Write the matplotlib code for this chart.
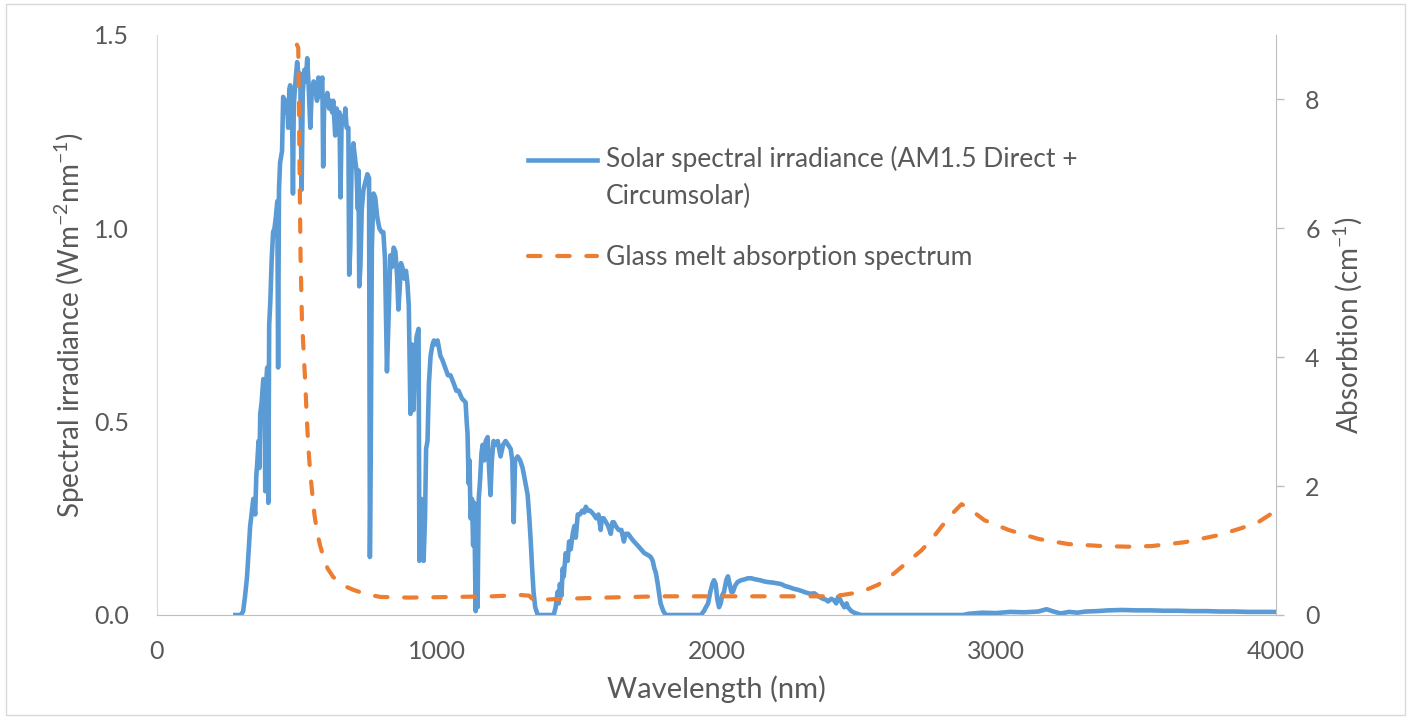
import numpy as np
import matplotlib.pyplot as plt
from matplotlib.patches import Rectangle

plt.rcParams['font.family'] = ['Lato', 'DejaVu Sans']
plt.rcParams['mathtext.fontset'] = 'custom'
plt.rcParams['mathtext.rm'] = 'Lato'
plt.rcParams['mathtext.default'] = 'regular'

text_col = '#595959'
axis_col = '#BFBFBF'

# solar spectral irradiance, AM1.5 direct + circumsolar
solar_wl = [280, 286, 300, 308, 315, 322, 328, 333, 338, 344, 351, 355, 358, 363, 366, 369, 374, 380, 384, 387,
            390, 394, 398, 401, 405, 410, 415, 420, 425, 430, 433, 436, 440, 447, 451, 458, 465, 469, 473, 476,
            482, 486, 489, 495, 501, 508, 512, 517, 521, 527, 532, 537, 542, 548, 553, 560, 566, 572, 577, 583,
            588, 591, 594, 598, 604, 609, 615, 620, 626, 630, 634, 637, 642, 648, 652, 656, 660, 665, 670, 673,
            678, 684, 687, 691, 696, 702, 708, 713, 718, 720, 723, 727, 732, 738, 745, 752, 758, 761, 764, 768,
            774, 780, 787, 795, 803, 809, 815, 822, 827, 834, 840, 846, 852, 858, 863, 868, 872, 877, 884, 890,
            895, 900, 906, 911, 917, 922, 928, 935, 938, 945, 950, 953, 958, 962, 967, 972, 978, 985, 990, 995,
            1003, 1008, 1013, 1020, 1030, 1040, 1049, 1060, 1070, 1078, 1090, 1103, 1107, 1110, 1114, 1117, 1121, 1126, 1130, 1134,
            1139, 1143, 1146, 1150, 1155, 1160, 1164, 1170, 1175, 1182, 1187, 1192, 1197, 1203, 1210, 1218, 1228, 1237, 1246, 1255,
            1264, 1270, 1275, 1280, 1289, 1298, 1307, 1315, 1320, 1325, 1331, 1336, 1341, 1346, 1352, 1361, 1380, 1400, 1418, 1425,
            1432, 1436, 1440, 1446, 1450, 1454, 1461, 1468, 1473, 1479, 1486, 1492, 1497, 1504, 1512, 1520, 1527, 1533, 1540, 1548,
            1555, 1561, 1570, 1578, 1586, 1590, 1597, 1605, 1613, 1622, 1628, 1633, 1640, 1650, 1660, 1669, 1675, 1684, 1694, 1705,
            1718, 1730, 1742, 1755, 1765, 1772, 1778, 1783, 1790, 1794, 1800, 1810, 1819, 1850, 1900, 1944, 1955, 1962, 1970, 1978,
            1985, 1991, 1997, 2003, 2009, 2015, 2020, 2027, 2035, 2041, 2047, 2053, 2059, 2066, 2075, 2088, 2100, 2112, 2124, 2140,
            2155, 2170, 2184, 2200, 2215, 2231, 2245, 2260, 2275, 2292, 2305, 2320, 2335, 2350, 2365, 2380, 2390, 2399, 2410, 2420,
            2428, 2435, 2442, 2450, 2457, 2465, 2470, 2482, 2495, 2517, 2600, 2700, 2800, 2880, 2900, 2950, 3000, 3050, 3100, 3150,
            3180, 3200, 3230, 3260, 3290, 3320, 3360, 3400, 3450, 3500, 3550, 3600, 3650, 3700, 3750, 3800, 3850, 3900, 3950, 4000]
solar_irr = [0, 0, 0, 0.01, 0.05, 0.10, 0.17, 0.23, 0.26, 0.30, 0.26, 0.36, 0.39, 0.45, 0.38, 0.52, 0.55, 0.61, 0.58, 0.32,
             0.60, 0.64, 0.29, 0.75, 0.81, 0.92, 0.99, 1.00, 1.03, 1.07, 0.64, 1.10, 1.17, 1.20, 1.34, 1.30, 1.33, 1.26, 1.36, 1.37,
             1.34, 1.09, 1.32, 1.38, 1.43, 1.38, 1.40, 1.10, 1.35, 1.41, 1.38, 1.44, 1.37, 1.26, 1.35, 1.38, 1.36, 1.33, 1.39, 1.34,
             1.38, 1.39, 1.16, 1.34, 1.32, 1.35, 1.31, 1.33, 1.30, 1.33, 1.28, 1.24, 1.31, 1.29, 1.30, 1.08, 1.28, 1.29, 1.27, 1.31,
             1.26, 1.26, 0.88, 0.95, 1.18, 1.22, 1.18, 1.15, 1.05, 1.15, 0.85, 0.90, 1.05, 1.10, 1.12, 1.14, 1.13, 0.15, 0.40, 0.95,
             1.09, 1.08, 1.03, 1.00, 0.99, 0.99, 0.92, 0.63, 0.75, 0.93, 0.90, 0.95, 0.94, 0.88, 0.79, 0.85, 0.91, 0.90, 0.87, 0.89,
             0.86, 0.80, 0.52, 0.70, 0.53, 0.65, 0.72, 0.74, 0.14, 0.30, 0.15, 0.14, 0.25, 0.43, 0.45, 0.60, 0.67, 0.70, 0.71, 0.70,
             0.71, 0.69, 0.67, 0.66, 0.64, 0.62, 0.62, 0.60, 0.58, 0.58, 0.56, 0.55, 0.50, 0.47, 0.34, 0.40, 0.25, 0.30, 0.18, 0.29,
             0.01, 0.20, 0.02, 0.30, 0.35, 0.42, 0.44, 0.40, 0.45, 0.46, 0.38, 0.31, 0.40, 0.45, 0.44, 0.45, 0.41, 0.44, 0.45, 0.44,
             0.43, 0.40, 0.24, 0.40, 0.41, 0.40, 0.38, 0.35, 0.33, 0.31, 0.25, 0.19, 0.12, 0.06, 0.02, 0, 0, 0, 0, 0.02,
             0.06, 0.03, 0.08, 0.05, 0.12, 0.10, 0.16, 0.14, 0.19, 0.17, 0.21, 0.23, 0.20, 0.26, 0.26, 0.27, 0.265, 0.28, 0.27, 0.27,
             0.265, 0.26, 0.25, 0.26, 0.22, 0.25, 0.25, 0.24, 0.23, 0.21, 0.24, 0.24, 0.23, 0.22, 0.22, 0.19, 0.21, 0.21, 0.20, 0.19,
             0.18, 0.17, 0.16, 0.155, 0.15, 0.14, 0.12, 0.11, 0.08, 0.06, 0.03, 0.01, 0, 0, 0, 0, 0.01, 0.02, 0.03, 0.06,
             0.08, 0.09, 0.08, 0.04, 0.02, 0.03, 0.05, 0.06, 0.09, 0.10, 0.08, 0.06, 0.06, 0.075, 0.085, 0.09, 0.092, 0.095, 0.095, 0.092,
             0.09, 0.087, 0.085, 0.084, 0.082, 0.08, 0.075, 0.072, 0.068, 0.065, 0.062, 0.058, 0.055, 0.056, 0.048, 0.042, 0.04, 0.035, 0.042, 0.038,
             0.03, 0.047, 0.04, 0.028, 0.02, 0.03, 0.02, 0.01, 0.005, 0, 0, 0, 0, 0, 0.003, 0.006, 0.005, 0.008, 0.007, 0.009,
             0.015, 0.01, 0.004, 0.008, 0.006, 0.009, 0.01, 0.012, 0.013, 0.012, 0.012, 0.011, 0.011, 0.01, 0.01, 0.009, 0.009, 0.008, 0.008, 0.008]

# glass melt absorption (cm^-1)
glass_wl = [500, 505, 509, 513, 518, 524, 530, 535, 541, 548, 555, 563, 573, 583, 595, 610, 630, 660, 702, 750, 799,
            900, 1060, 1200, 1300, 1330, 1346, 1443, 1600, 1801, 2100, 2399, 2450, 2492, 2540, 2578, 2636, 2690, 2732, 2770, 2804,
            2840, 2876, 2900, 2958, 3044, 3151, 3259, 3377, 3470, 3556, 3674, 3796, 3878, 3940, 3986, 4000]
glass_abs = [8.85, 8.8, 7.2, 5.6, 4.6, 4.1, 3.6, 3.1, 2.6, 2.2, 1.89, 1.55, 1.27, 1.08, 0.90, 0.72, 0.59, 0.47, 0.39, 0.32, 0.28,
             0.27, 0.28, 0.29, 0.31, 0.30, 0.23, 0.25, 0.27, 0.29, 0.29, 0.29, 0.31, 0.34, 0.40, 0.47, 0.65, 0.85, 1.0, 1.18, 1.37,
             1.56, 1.72, 1.66, 1.47, 1.32, 1.18, 1.10, 1.07, 1.06, 1.07, 1.13, 1.24, 1.35, 1.45, 1.58, 1.62]

fig = plt.figure(figsize=(14.11, 7.19), dpi=100)
ax = fig.add_axes([157 / 1411, 1 - 615 / 719, (1276 - 157) / 1411, (615 - 35) / 719])
ax2 = ax.twinx()

l1, = ax.plot(solar_wl, solar_irr, color='#5B9BD5', lw=3.3, solid_joinstyle='round',
              label='Solar spectral irradiance (AM1.5 Direct +\nCircumsolar)')
l2, = ax2.plot(glass_wl, glass_abs, color='#ED7D31', lw=3.0, dash_capstyle='round',
               label='Glass melt absorption spectrum')
l2.set_dashes((3, 4))

ax.set_xlim(0, 4000)
ax.set_ylim(0, 1.5)
ax2.set_ylim(0, 9)
ax.set_xticks([0, 1000, 2000, 3000, 4000])
ax.set_yticks([0, 0.5, 1.0, 1.5])
ax.set_yticklabels(['0.0', '0.5', '1.0', '1.5'])
ax2.set_yticks([0, 2, 4, 6, 8])

for a in (ax, ax2):
    for s in a.spines.values():
        s.set_visible(False)
ax.spines['bottom'].set_visible(True)
ax.spines['bottom'].set_color(axis_col)
ax.spines['left'].set_visible(True)
ax.spines['left'].set_color('#D9D9D9')
ax2.spines['right'].set_visible(True)
ax2.spines['right'].set_color(axis_col)

ax.tick_params(axis='x', length=0, pad=18, labelsize=18, labelcolor=text_col)
ax.tick_params(axis='y', length=0, pad=20, labelsize=18, labelcolor=text_col)
ax2.tick_params(axis='y', length=6, width=1, color=axis_col, pad=15, labelsize=18, labelcolor=text_col)

ax.set_xlabel('Wavelength (nm)', fontsize=21, color=text_col, labelpad=9)
ax.set_ylabel('Spectral irradiance (Wm$^{-2}$nm$^{-1}$)', fontsize=20, color=text_col, labelpad=5)
ax2.set_ylabel('Absorbtion (cm$^{-1}$)', fontsize=20, color=text_col, labelpad=8)

leg = fig.legend(handles=[l1, l2], loc='upper left', bbox_to_anchor=(528 / 1411, 1 - 146 / 719),
                 frameon=False, fontsize=19, handlelength=2.6, handletextpad=0.35,
                 labelspacing=1.35, borderpad=0, borderaxespad=0)
for t in leg.get_texts():
    t.set_color(text_col)
    t.set_linespacing(1.6)
# keep the first handle level with the first text line, as in the source chart
h0 = leg.legend_handles[0]
h0.set_ydata([y + 13.5 for y in h0.get_ydata()])

fig.patches.append(Rectangle((0.004, 0.006), 0.992, 0.988, transform=fig.transFigure,
                             fill=False, edgecolor='#D9D9D9', lw=1))

fig.savefig('out.png', dpi=100)
